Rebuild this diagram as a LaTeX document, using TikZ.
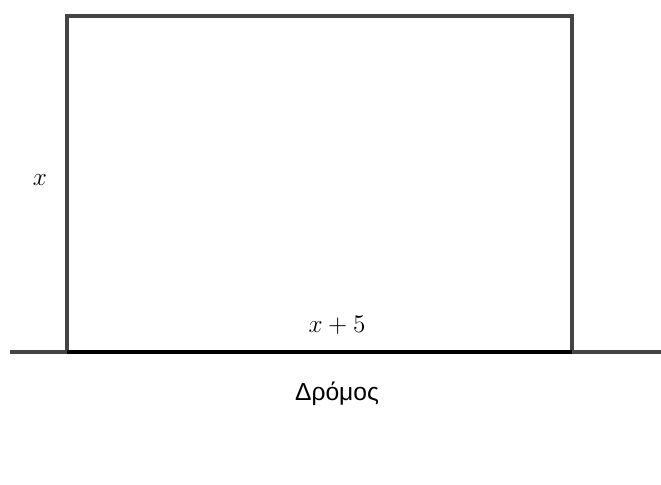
\documentclass[tikz,border=0pt]{standalone}
\usepackage{fontspec}
\newfontfamily\roadfont{Liberation Sans}
\usetikzlibrary{calc}

\definecolor{wallgray}{RGB}{68,68,68}
\tikzset{
	wall/.style={draw=wallgray, line width=2.2pt},
	lbl/.style={inner sep=0pt, font=\fontsize{13.5}{15}\selectfont}
}

\begin{document}
\begin{tikzpicture}[x=0.02cm, y=-0.02cm]

	\useasboundingbox (0,0) rectangle (661,484);

	\coordinate (A) at (67,352);
	\coordinate (B) at (572,352);
	\coordinate (C) at (572,16);
	\coordinate (D) at (67,16);
	\coordinate (roadL) at (10,352);
	\coordinate (roadR) at (661,352);

	\draw[wall] (roadL) -- (roadR);
	\draw[wall] (A) -- (D) -- (C) -- (B);
	\draw[line width=2.2pt, black] (A) -- (B);

	\node[lbl] (side) at (40,180) {$x$};
	\node[lbl] (base) at (337,325) {$x+5$};
	\node[lbl, font=\fontsize{14}{16}\selectfont] (road) at (337,394) {\roadfont Δρόμος};

\end{tikzpicture}
\end{document}
